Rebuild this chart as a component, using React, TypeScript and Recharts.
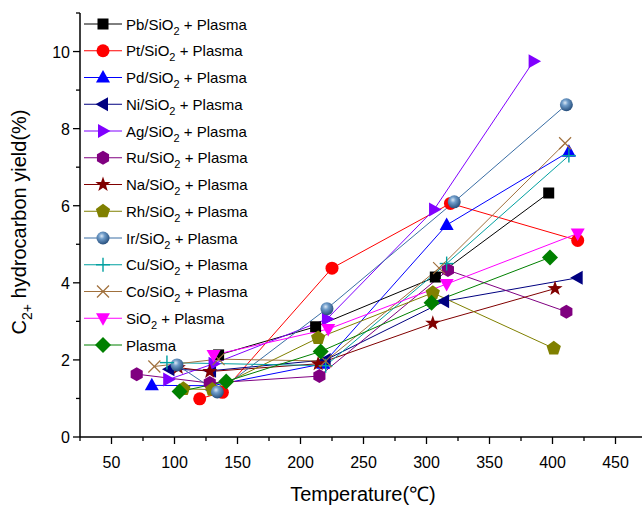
import React from "react";
import { LineChart, Line, XAxis, YAxis, Label } from "recharts";

// temperatures (°C) and C2+ yields (%) for each catalyst
const pbTemp = [135, 212, 307, 397];
const pbYield = [2.13, 2.86, 4.15, 6.33];
const ptTemp = [120, 138, 225, 319, 420];
const ptYield = [0.99, 1.16, 4.38, 6.06, 5.1];
const pdTemp = [82, 130, 218, 316, 413];
const pdYield = [1.34, 1.33, 1.9, 5.5, 7.4];
const niTemp = [96, 129, 220, 314, 420];
const niYield = [1.76, 1.72, 2.0, 3.52, 4.13];
const agTemp = [95, 131, 221, 306, 385];
const agYield = [1.49, 1.9, 3.06, 5.9, 9.75];
const ruTemp = [70, 128, 215, 317, 411];
const ruYield = [1.63, 1.4, 1.58, 4.33, 3.25];
const naTemp = [103, 128, 214, 305, 402];
const naYield = [1.8, 1.7, 1.9, 2.95, 3.85];
const rhTemp = [107, 130, 214, 305, 401];
const rhYield = [1.25, 1.23, 2.57, 3.74, 2.3];
const irTemp = [102, 134, 221, 322, 411];
const irYield = [1.87, 1.17, 3.33, 6.1, 8.62];
const cuTemp = [94, 220, 316, 413];
const cuYield = [1.93, 1.85, 4.5, 7.3];
const coTemp = [84, 135, 220, 310, 410];
const coYield = [1.83, 2.02, 1.97, 4.38, 7.62];
const sio2Temp = [131, 222, 316, 420];
const sio2Yield = [2.13, 2.8, 3.97, 5.28];
const plasmaTemp = [104, 141, 216, 304, 398];
const plasmaYield = [1.18, 1.44, 2.22, 3.48, 4.66];

const xTicks = [25, 50, 75, 100, 125, 150, 175, 200, 225, 250, 275, 300, 325, 350, 375, 400, 425, 450, 475];
const yTicks = [0, 1, 2, 3, 4, 5, 6, 7, 8, 9, 10, 11];

const FONT = '"Liberation Sans", Arial, sans-serif';

type Shape =
  | "square" | "circle" | "up" | "left" | "right" | "hex" | "star"
  | "pent" | "ball" | "plus" | "cross" | "down" | "diamond";

const zip = (t: number[], y: number[]) => t.map((v, i) => ({ t: v, y: y[i] }));

const series: { id: string; metal: string; color: string; shape: Shape; data: { t: number; y: number }[] }[] = [
  { id: "pb", metal: "Pb/SiO", color: "#000000", shape: "square", data: zip(pbTemp, pbYield) },
  { id: "pt", metal: "Pt/SiO", color: "#ff0000", shape: "circle", data: zip(ptTemp, ptYield) },
  { id: "pd", metal: "Pd/SiO", color: "#0000ff", shape: "up", data: zip(pdTemp, pdYield) },
  { id: "ni", metal: "Ni/SiO", color: "#000080", shape: "left", data: zip(niTemp, niYield) },
  { id: "ag", metal: "Ag/SiO", color: "#8000ff", shape: "right", data: zip(agTemp, agYield) },
  { id: "ru", metal: "Ru/SiO", color: "#800080", shape: "hex", data: zip(ruTemp, ruYield) },
  { id: "na", metal: "Na/SiO", color: "#800000", shape: "star", data: zip(naTemp, naYield) },
  { id: "rh", metal: "Rh/SiO", color: "#808000", shape: "pent", data: zip(rhTemp, rhYield) },
  { id: "ir", metal: "Ir/SiO", color: "#3a6ea5", shape: "ball", data: zip(irTemp, irYield) },
  { id: "cu", metal: "Cu/SiO", color: "#00a0a0", shape: "plus", data: zip(cuTemp, cuYield) },
  { id: "co", metal: "Co/SiO", color: "#a0703c", shape: "cross", data: zip(coTemp, coYield) },
  { id: "sio2", metal: "SiO", color: "#ff00ff", shape: "down", data: zip(sio2Temp, sio2Yield) },
  { id: "plasma", metal: "Plasma", color: "#008000", shape: "diamond", data: zip(plasmaTemp, plasmaYield) },
];

const poly = (cx: number, cy: number, r: number, n: number, start: number) =>
  Array.from({ length: n }, (_, k) => {
    const a = start + (k * 2 * Math.PI) / n;
    return `${cx + r * Math.cos(a)},${cy + r * Math.sin(a)}`;
  }).join(" ");

const star = (cx: number, cy: number, ro: number, ri: number) =>
  Array.from({ length: 10 }, (_, k) => {
    const a = -Math.PI / 2 + (k * Math.PI) / 5;
    const r = k % 2 === 0 ? ro : ri;
    return `${cx + r * Math.cos(a)},${cy + r * Math.sin(a)}`;
  }).join(" ");

function Marker({ shape, color, cx, cy }: { shape: Shape; color: string; cx: number; cy: number }) {
  switch (shape) {
    case "square":
      return <rect x={cx - 5.5} y={cy - 5.5} width={11} height={11} fill={color} />;
    case "circle":
      return <circle cx={cx} cy={cy} r={6.5} fill={color} />;
    case "up":
      return <polygon points={`${cx},${cy - 7.5} ${cx + 7},${cy + 5} ${cx - 7},${cy + 5}`} fill={color} />;
    case "down":
      return <polygon points={`${cx - 7},${cy - 5} ${cx + 7},${cy - 5} ${cx},${cy + 7.5}`} fill={color} />;
    case "left":
      return <polygon points={`${cx - 7.5},${cy} ${cx + 5},${cy - 7} ${cx + 5},${cy + 7}`} fill={color} />;
    case "right":
      return <polygon points={`${cx + 7.5},${cy} ${cx - 5},${cy - 7} ${cx - 5},${cy + 7}`} fill={color} />;
    case "hex":
      return <polygon points={poly(cx, cy, 7, 6, -Math.PI / 2)} fill={color} />;
    case "pent":
      return <polygon points={poly(cx, cy, 7.5, 5, -Math.PI / 2)} fill={color} />;
    case "star":
      return <polygon points={star(cx, cy, 8, 3.2)} fill={color} />;
    case "diamond":
      return <polygon points={poly(cx, cy, 8, 4, -Math.PI / 2)} fill={color} />;
    case "ball":
      return (
        <g>
          <defs>
            <radialGradient id="ballShade" cx="0.4" cy="0.35" r="0.65">
              <stop offset="0" stopColor="#dbe8f5" />
              <stop offset="0.35" stopColor="#6f9cc9" />
              <stop offset="1" stopColor="#274f7d" />
            </radialGradient>
          </defs>
          <circle cx={cx} cy={cy} r={6.5} fill="url(#ballShade)" />
        </g>
      );
    case "plus":
      return (
        <g stroke={color} strokeWidth={1.4}>
          <line x1={cx - 7} y1={cy} x2={cx + 7} y2={cy} />
          <line x1={cx} y1={cy - 7} x2={cx} y2={cy + 7} />
        </g>
      );
    case "cross":
      return (
        <g stroke={color} strokeWidth={1.2}>
          <line x1={cx - 6} y1={cy - 6} x2={cx + 6} y2={cy + 6} />
          <line x1={cx - 6} y1={cy + 6} x2={cx + 6} y2={cy - 6} />
        </g>
      );
  }
  return null;
}

function XTick(props: any) {
  const { x, y, payload } = props;
  const major = payload.value % 50 === 0;
  return (
    <g>
      <line x1={x} y1={y} x2={x} y2={y + (major ? 7 : 4)} stroke="#000" strokeWidth={1.3} />
      {major && payload.value >= 50 && payload.value <= 450 && (
        <text x={x} y={y + 31} textAnchor="middle" fontSize={16} fontFamily={FONT} fill="#000">
          {payload.value}
        </text>
      )}
    </g>
  );
}

function TopTick(props: any) {
  const { x, y } = props;
  return <line x1={x} y1={y} x2={x} y2={y + 3} stroke="#000" strokeWidth={1} />;
}

function YTick(props: any) {
  const { x, y, payload } = props;
  const major = payload.value % 2 === 0;
  return (
    <g>
      <line x1={x} y1={y} x2={x - (major ? 7 : 4)} y2={y} stroke="#000" strokeWidth={1.3} />
      {major && payload.value <= 10 && (
        <text x={x - 10} y={y + 6} textAnchor="end" fontSize={16} fontFamily={FONT} fill="#000">
          {payload.value}
        </text>
      )}
    </g>
  );
}

function LegendBox() {
  return (
    <svg width={300} height={360} style={{ position: "absolute", left: 0, top: 0 }}>
      {series.map((s, i) => {
        const cy = 24 + i * 26.75;
        return (
          <g key={s.id}>
            <line x1={84} y1={cy} x2={122} y2={cy} stroke={s.color} strokeWidth={1} />
            <Marker shape={s.shape} color={s.color} cx={103} cy={cy} />
            <text x={126} y={cy + 5.5} fontSize={15} fontFamily={FONT} fill="#000">
              {s.id === "plasma" ? (
                "Plasma"
              ) : (
                <>
                  {s.metal}
                  <tspan dy={5} fontSize={11}>2</tspan>
                  <tspan dy={-5}> + Plasma</tspan>
                </>
              )}
            </text>
          </g>
        );
      })}
    </svg>
  );
}

export default function App() {
  return (
    <div
      style={{
        position: "absolute",
        left: 0,
        top: 0,
        width: 642,
        height: 509,
        overflow: "hidden",
        background: "#fff",
      }}
    >
      <LineChart width={648} height={509} margin={{ top: 13, right: 1, bottom: 22, left: 20 }}>
        <XAxis
          type="number"
          dataKey="t"
          domain={[25, 475]}
          ticks={xTicks}
          interval={0}
          height={50}
          tickSize={0}
          tickMargin={0}
          tickLine={false}
          tick={<XTick />}
          axisLine={{ stroke: "#000", strokeWidth: 1.5 }}
          allowDataOverflow
        >
          <Label
            content={() => (
              <text x={363} y={501} textAnchor="middle" fontSize={20} fontFamily={FONT} fill="#000">
                Temperature(℃)
              </text>
            )}
          />
        </XAxis>
        <XAxis
          xAxisId="top"
          orientation="top"
          type="number"
          domain={[25, 475]}
          ticks={xTicks}
          interval={0}
          height={0}
          tickSize={0}
          tickMargin={0}
          tickLine={false}
          tick={<TopTick />}
          axisLine={{ stroke: "#000", strokeWidth: 1.5 }}
          allowDataOverflow
        />
        <YAxis
          type="number"
          domain={[0, 11]}
          ticks={yTicks}
          interval={0}
          width={60}
          tickSize={0}
          tickMargin={0}
          tickLine={false}
          tick={<YTick />}
          axisLine={{ stroke: "#000", strokeWidth: 1.5 }}
          allowDataOverflow
        >
          <Label
            content={() => (
              <text
                x={26}
                y={222}
                transform="rotate(-90 26 222)"
                textAnchor="middle"
                fontSize={20}
                fontFamily={FONT}
                fill="#000"
              >
                C<tspan dy={6} fontSize={14}>2+</tspan>
                <tspan dy={-6}> hydrocarbon yield(%)</tspan>
              </text>
            )}
          />
        </YAxis>
        {series.map((s) => (
          <Line
            key={s.id}
            data={s.data}
            dataKey="y"
            stroke={s.color}
            strokeWidth={1}
            isAnimationActive={false}
            dot={(p: any) => (
              <Marker key={`${s.id}-${p.index}`} shape={s.shape} color={s.color} cx={p.cx} cy={p.cy} />
            )}
            activeDot={false}
          />
        ))}
      </LineChart>
      <LegendBox />
    </div>
  );
}
